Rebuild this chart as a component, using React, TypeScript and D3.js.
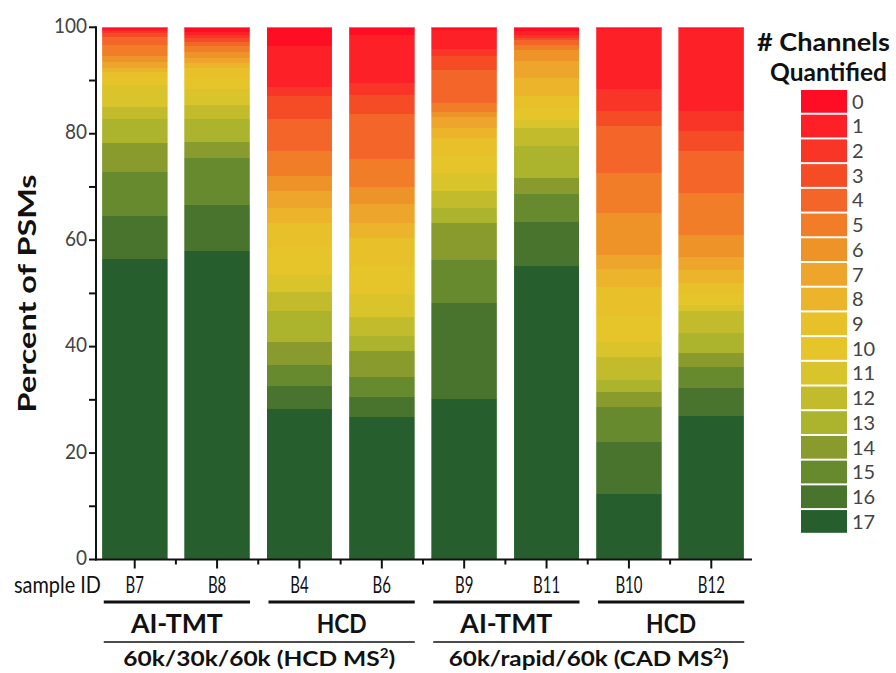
import React, { useRef, useEffect } from 'react'
import * as d3 from 'd3'

// sample order along the x axis
const samples = ['B7', 'B8', 'B4', 'B6', 'B9', 'B11', 'B10', 'B12']

// number of quantified channels, 0..17
const channels = ['0', '1', '2', '3', '4', '5', '6', '7', '8', '9', '10', '11', '12', '13', '14', '15', '16', '17']

const channelColors = [
  '#ff0c25', '#fd2027', '#f83526', '#f54c26', '#f36528', '#f27d28',
  '#ee9328', '#eda62b', '#ebb42a', '#e8c12a', '#e6c52a', '#d9c42b',
  '#c2bb2c', '#acb42e', '#8a9b2d', '#688a2f', '#48742d', '#265f2d',
]

// percent of PSMs per channel count (index = channels)
const b7 = [0.4, 0.3, 0.3, 0.8, 1.6, 1.9, 1.3, 1.0, 0.8, 1.3, 1.1, 4.1, 2.4, 4.4, 5.4, 8.3, 8.1, 56.5]
const b8 = [0.8, 0.7, 0.6, 0.7, 0.8, 1.0, 1.1, 1.0, 0.9, 2.0, 1.9, 3.1, 2.7, 4.2, 3.0, 8.8, 8.8, 57.9]
const b4 = [3.6, 7.7, 1.6, 4.4, 6.0, 4.7, 2.8, 3.1, 2.9, 4.5, 5.2, 3.3, 3.6, 5.8, 4.2, 4.0, 4.3, 28.3]
const b6 = [1.5, 9.0, 2.3, 3.5, 8.5, 5.2, 3.2, 3.5, 2.8, 5.4, 5.2, 4.4, 3.5, 2.9, 4.9, 3.7, 3.7, 26.8]
const b9 = [0.6, 3.4, 1.3, 2.7, 6.3, 1.7, 0.9, 2.0, 1.9, 3.3, 3.2, 3.4, 3.3, 2.7, 7.1, 8.0, 18.1, 30.1]
const b11 = [0.7, 0.8, 0.5, 0.4, 0.9, 1.0, 2.0, 3.3, 3.3, 2.3, 2.3, 1.5, 3.3, 6.1, 3.0, 5.2, 8.2, 55.2]
const b10 = [0.4, 11.1, 4.3, 2.7, 8.8, 7.6, 7.8, 2.7, 3.4, 5.4, 5.0, 2.7, 4.4, 2.2, 2.8, 6.6, 9.7, 12.4]
const b12 = [0.3, 15.4, 3.8, 3.8, 7.8, 8.0, 4.0, 2.5, 2.4, 2.2, 1.9, 1.3, 4.0, 3.8, 2.6, 4.0, 5.3, 26.9]

const sampleValues = [b7, b8, b4, b6, b9, b11, b10, b12]

// grouping labels below the axis
const methodGroups = [
  { label: 'AI-TMT', members: ['B7', 'B8'], len: 92 },
  { label: 'HCD', members: ['B4', 'B6'], len: 50 },
  { label: 'AI-TMT', members: ['B9', 'B11'], len: 92 },
  { label: 'HCD', members: ['B10', 'B12'], len: 50 },
]
const methodGroupsOuter = [
  { label: '60k/30k/60k (HCD MS', sup: '2', members: ['B7', 'B6'], len: 272 },
  { label: '60k/rapid/60k (CAD MS', sup: '2', members: ['B9', 'B12'], len: 280 },
]

const yTicks = [0, 20, 40, 60, 80, 100]
const yMinorTicks = [10, 30, 50, 70, 90]

const FONT = 'Lato, "DejaVu Sans", sans-serif'

export default function App() {
  const svgRef = useRef<SVGSVGElement>(null)

  useEffect(() => {
    const svg = d3.select(svgRef.current)
    svg.selectAll('*').remove()

    const width = 896, height = 673
    svg.attr('width', width).attr('height', height)

    const x = d3.scaleBand().domain(samples).range([96, 750]).paddingInner(0.2).paddingOuter(0.07)
    const y = d3.scaleLinear().domain([0, 100]).range([559.5, 27.3])

    const rows = samples.map((s, i) => {
      const row: any = { sample: s }
      channels.forEach((c, j) => { row[c] = sampleValues[i][j] })
      return row
    })
    const keys = channels.slice().reverse()
    const series = d3.stack().keys(keys)(rows)
    const color = d3.scaleOrdinal<string, string>().domain(channels).range(channelColors)

    // bars
    svg.append('g').selectAll('g')
      .data(series)
      .join('g')
      .attr('fill', d => color(d.key))
      .selectAll('rect')
      .data(d => d)
      .join('rect')
      .attr('x', d => x((d.data as any).sample)!)
      .attr('width', x.bandwidth())
      .attr('y', d => y(d[1]))
      .attr('height', d => y(d[0]) - y(d[1]))
      .attr('shape-rendering', 'crispEdges')

    // faint outline around each bar
    svg.append('g').selectAll('rect')
      .data(samples)
      .join('rect')
      .attr('x', d => x(d)!)
      .attr('width', x.bandwidth())
      .attr('y', y(100))
      .attr('height', y(0) - y(100))
      .attr('fill', 'none')
      .attr('stroke', '#ffffff')
      .attr('stroke-opacity', 0.45)
      .attr('stroke-width', 1)

    // y axis
    const ax = svg.append('g')
    ax.append('line').attr('x1', 96).attr('x2', 96).attr('y1', y(100) - 1).attr('y2', y(0) + 1)
      .attr('stroke', '#111').attr('stroke-width', 2)
    ax.selectAll('.tk').data(yTicks.concat(yMinorTicks)).join('line')
      .attr('x1', 89).attr('x2', 96).attr('y1', d => y(d)).attr('y2', d => y(d))
      .attr('stroke', '#111').attr('stroke-width', 2)
    ax.selectAll('text').data(yTicks).join('text')
      .attr('transform', d => `translate(87,${y(d) - 2}) scale(0.95,1.05)`)
      .attr('dy', '0.36em')
      .attr('text-anchor', 'end')
      .attr('font-family', FONT).attr('font-size', 20).attr('fill', '#444')
      .text(d => d)

    svg.append('text')
      .attr('transform', `translate(36,${(y(0) + y(100)) / 2}) rotate(-90)`)
      .attr('text-anchor', 'middle')
      .attr('font-family', FONT).attr('font-weight', 'bold').attr('font-size', 24).attr('fill', '#111')
      .attr('textLength', 238).attr('lengthAdjust', 'spacingAndGlyphs')
      .text('Percent of PSMs')

    // x axis
    const xa = svg.append('g')
    xa.append('line').attr('x1', 95).attr('x2', 752).attr('y1', y(0)).attr('y2', y(0))
      .attr('stroke', '#111').attr('stroke-width', 2)
    xa.selectAll('.major').data(samples).join('line')
      .attr('x1', d => x(d)! + x.bandwidth() / 2).attr('x2', d => x(d)! + x.bandwidth() / 2)
      .attr('y1', y(0)).attr('y2', y(0) + 9)
      .attr('stroke', '#111').attr('stroke-width', 2)
    const gap = x.step() - x.bandwidth()
    xa.selectAll('.minor').data(samples.slice(1)).join('line')
      .attr('x1', d => x(d)! - gap / 2).attr('x2', d => x(d)! - gap / 2)
      .attr('y1', y(0)).attr('y2', y(0) + 5)
      .attr('stroke', '#111').attr('stroke-width', 2)

    xa.selectAll('text').data(samples).join('text')
      .attr('transform', d => `translate(${x(d)! + x.bandwidth() / 2},593) scale(0.75,1.15)`)
      .attr('text-anchor', 'middle')
      .attr('font-family', FONT).attr('font-size', 20).attr('fill', '#111')
      .text(d => d)

    svg.append('text')
      .attr('transform', 'translate(101,593) scale(1,1.15)')
      .attr('text-anchor', 'end')
      .attr('font-family', FONT).attr('font-size', 20).attr('fill', '#111')
      .attr('textLength', 87).attr('lengthAdjust', 'spacingAndGlyphs')
      .text('sample ID')

    // method group labels
    const span = (m: string[]) => {
      const a = x(m[0])!
      const b = x(m[m.length - 1])! + x.bandwidth()
      return [a + 2, b]
    }
    methodGroups.forEach(g => {
      const [a, b] = span(g.members)
      svg.append('line').attr('x1', a).attr('x2', b).attr('y1', 602).attr('y2', 602)
        .attr('stroke', '#111').attr('stroke-width', 3)
      svg.append('text')
        .attr('x', (a + b) / 2).attr('y', 633)
        .attr('text-anchor', 'middle')
        .attr('font-family', FONT).attr('font-weight', 'bold').attr('font-size', 27).attr('fill', '#111')
        .attr('textLength', g.len).attr('lengthAdjust', 'spacingAndGlyphs')
        .text(g.label)
    })
    methodGroupsOuter.forEach(g => {
      const [a, b] = span(g.members)
      svg.append('line').attr('x1', a).attr('x2', b).attr('y1', 642).attr('y2', 642)
        .attr('stroke', '#111').attr('stroke-width', 1.5)
      const t = svg.append('text')
        .attr('x', (a + b) / 2).attr('y', 666)
        .attr('text-anchor', 'middle')
        .attr('font-family', FONT).attr('font-weight', 'bold').attr('font-size', 21).attr('fill', '#111')
        .attr('textLength', g.len).attr('lengthAdjust', 'spacingAndGlyphs')
      t.append('tspan').text(g.label)
      t.append('tspan').attr('font-size', 13).attr('dy', -8).text(g.sup)
      t.append('tspan').attr('dy', 8).text(')')
    })

    // legend
    const lg = svg.append('g')
    lg.append('text').attr('x', 890).attr('y', 51).attr('text-anchor', 'end')
      .attr('font-family', FONT).attr('font-weight', 'bold').attr('font-size', 25).attr('fill', '#111')
      .attr('textLength', 133).attr('lengthAdjust', 'spacingAndGlyphs')
      .text('# Channels')
    lg.append('text').attr('x', 887).attr('y', 81).attr('text-anchor', 'end')
      .attr('font-family', FONT).attr('font-weight', 'bold').attr('font-size', 25).attr('fill', '#111')
      .attr('textLength', 117).attr('lengthAdjust', 'spacingAndGlyphs')
      .text('Quantified')
    const ly = d3.scaleBand().domain(channels).range([90, 90 + 24.6 * 18]).paddingInner(0.08).paddingOuter(0)
    lg.selectAll('rect').data(channels).join('rect')
      .attr('x', 801).attr('width', 46)
      .attr('y', d => ly(d)!).attr('height', ly.bandwidth())
      .attr('fill', d => color(d))
    lg.selectAll('.lt').data(channels).join('text')
      .attr('x', 852).attr('y', d => ly(d)! + ly.bandwidth() / 2).attr('dy', '0.36em')
      .attr('font-family', FONT).attr('font-size', 20).attr('fill', '#444')
      .text(d => d)
  }, [])

  return <svg ref={svgRef} style={{ position: 'absolute', left: 0, top: 0 }} />
}
